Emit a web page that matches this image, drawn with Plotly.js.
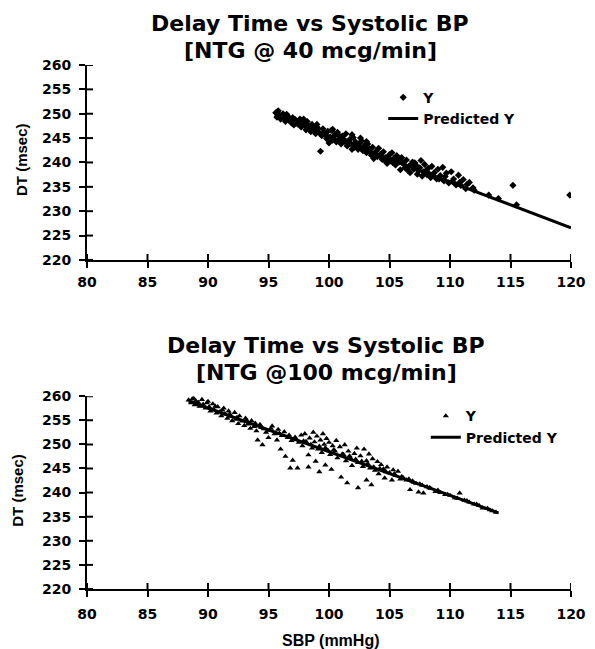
<!DOCTYPE html>
<html><head><meta charset="utf-8">
<script src="https://cdn.plot.ly/plotly-3.0.1.min.js"></script>
<style>html,body{margin:0;padding:0;background:#fff}#chart{width:595px;height:649px}</style>
</head><body><div id="chart"></div>
<script>
// ---- Data ----
const xTickVals = [80, 85, 90, 95, 100, 105, 110, 115, 120];
const yTickVals = [220, 225, 230, 235, 240, 245, 250, 255, 260];

// Top chart: NTG @ 40 mcg/min  -- observed [SBP, DT]
const top40Points = [
[95.6,250.2],[95.7,249.3],[95.9,249.8],[96.0,248.9],[96.2,250.0],[96.3,249.2],[96.4,248.4],[96.6,249.5],[96.7,248.7],[96.9,248.1],
[97.0,249.2],[97.1,247.7],[97.3,248.5],[97.4,247.9],[97.6,248.9],[97.7,247.3],[97.8,248.2],[98.0,247.6],[98.1,246.7],[98.2,248.4],
[98.4,247.0],[98.5,246.3],[98.6,247.8],[98.8,246.6],[98.9,245.9],[99.0,247.3],[99.2,246.1],[99.3,242.3],[99.4,245.5],[99.5,246.9],
[99.7,245.8],[99.8,244.9],[99.9,246.4],[100.1,245.2],[100.2,246.6],[100.3,244.6],[100.5,245.8],[100.6,244.2],[100.7,246.2],[100.9,244.9],
[101.0,243.8],[101.1,245.4],[101.3,244.3],[101.4,245.9],[101.5,243.4],[101.7,244.7],[101.8,243.9],[102.0,245.1],[102.1,243.1],[102.2,244.2],
[102.4,242.7],[102.5,243.9],[102.7,244.4],[102.8,242.4],[102.9,243.4],[103.1,242.0],[103.2,243.8],[103.3,242.8],[103.5,241.5],[103.6,243.1],
[103.7,240.8],[103.9,242.3],[104.0,241.2],[104.1,242.9],[104.3,241.7],[104.4,240.6],[104.5,242.2],[104.7,241.0],[104.8,239.8],[105.0,241.6],
[105.1,240.3],[105.2,242.0],[105.4,240.9],[105.5,239.5],[105.6,241.4],[105.8,240.1],[105.9,238.5],[106.0,241.0],[106.2,239.6],[106.3,238.9],
[106.4,240.5],[106.6,239.2],[106.7,237.9],[106.9,240.1],[107.0,238.6],[107.2,239.4],[107.3,237.6],[107.5,238.9],[107.6,240.4],[107.8,238.1],
[107.9,239.6],[108.1,237.5],[108.2,238.8],[108.4,236.9],[108.5,239.2],[108.7,237.9],[108.9,236.6],[109.0,238.6],[109.2,237.3],[109.4,239.0],
[109.5,236.2],[109.7,237.8],[109.9,235.8],[110.1,238.1],[110.3,236.6],[110.5,235.4],[110.7,237.4],[110.9,235.3],[111.1,236.5],[111.3,234.6],
[111.6,235.9],[111.9,234.8],[115.2,235.3],[119.9,233.3],
[95.8,250.6],[96.5,249.9],[97.2,248.8],[97.9,248.9],[98.3,247.5],[98.7,247.2],[99.1,246.9],[99.6,246.2],[100.0,244.0],[100.4,245.4],
[100.8,245.6],[101.2,244.8],[101.6,244.1],[101.9,242.7],[102.3,243.4],[102.6,243.0],[103.0,243.3],[103.4,242.2],[103.8,241.9],[104.2,241.4],
[104.6,240.4],[104.9,241.1],[105.3,239.9],[105.7,240.7],[106.1,239.9],[106.5,238.4],[106.8,239.6],[107.1,239.9],[107.4,238.3],[107.7,237.2],
[108.0,238.3],[108.3,237.6],[108.6,237.3],[109.1,236.6],[109.6,237.1],[110.2,236.1],[110.8,235.9],[111.4,235.5],[112.0,234.3],[113.2,233.3],
[114.0,232.6],[115.5,231.3],[100.3,246.8],[99.0,247.8],[101.9,245.7],[102.6,245.0],[103.1,244.3]
];
// Top chart predicted line (read along the drawn fit)
const top40PredSbp = [95.5, 100, 105, 110, 115, 120];
const top40PredDt  = [249.6, 245.4, 240.7, 236.0, 231.3, 226.6];

// Bottom chart: NTG @ 100 mcg/min -- observed [SBP, DT]
const bot100Points = [
[88.4,259.2],[88.6,258.6],[88.7,259.4],[88.9,258.2],[89.0,259.0],[89.2,258.7],[89.3,257.9],[89.5,259.3],[89.6,258.3],[89.8,257.5],
[89.9,258.6],[90.1,257.8],[90.2,256.9],[90.4,258.4],[90.5,257.2],[90.7,256.5],[90.8,257.8],[91.0,256.8],[91.1,255.9],[91.3,257.5],
[91.4,256.3],[91.6,255.4],[91.7,256.9],[91.9,255.8],[92.0,254.9],[92.2,256.6],[92.3,255.2],[92.5,254.3],[92.6,255.9],[92.8,254.8],
[93.0,253.9],[93.1,255.4],[93.3,254.2],[93.5,253.3],[93.6,254.9],[93.8,253.7],[94.0,252.8],[94.1,250.9],[94.3,254.1],[94.5,249.9],
[94.6,253.2],[94.8,252.5],[95.0,251.4],[95.2,253.3],[95.3,253.8],[95.5,252.2],[95.7,250.9],[95.8,253.1],[96.0,249.0],[96.1,251.8],
[96.3,252.6],[96.4,247.5],[96.6,251.4],[96.8,245.1],[96.9,250.8],[97.0,246.7],[97.2,251.5],[97.4,245.1],[97.5,250.4],[97.7,251.9],
[97.8,249.7],[98.0,252.2],[98.1,250.6],[98.3,247.8],[98.3,245.3],[98.4,251.3],[98.6,249.2],[98.7,252.5],[98.8,250.5],[98.9,246.5],
[99.0,251.7],[99.1,249.0],[99.2,244.3],[99.3,250.9],[99.4,248.3],[99.5,252.2],[99.6,250.0],[99.7,245.7],[99.8,251.2],[99.9,248.8],
[100.0,250.4],[100.1,247.9],[100.2,244.8],[100.3,249.7],[100.5,248.6],[100.6,250.8],[100.7,247.2],[100.9,249.5],[101.0,243.2],[101.1,248.0],
[101.3,249.9],[101.4,246.6],[101.5,242.0],[101.6,248.6],[101.8,247.1],[101.9,245.6],[102.1,248.1],[102.3,249.2],[102.4,246.2],[102.4,241.0],
[102.6,247.6],[102.8,245.4],[102.9,249.0],[103.1,246.6],[103.1,242.6],[103.3,248.0],[103.4,245.1],[103.5,241.6],[103.6,247.0],[103.8,244.6],
[104.0,246.4],[104.1,243.9],[104.3,245.8],[104.5,244.9],[104.6,243.0],[104.8,245.3],[105.0,244.1],[105.2,242.6],[105.3,244.7],[105.5,243.5],
[105.7,244.4],[105.9,242.8],[106.1,243.2],[106.4,242.6],[106.7,240.6],[106.9,242.4],[107.2,241.9],[107.4,240.1],[107.7,241.5],[107.8,239.9],
[108.1,241.2],[108.4,240.9],[108.8,240.2],[109.2,240.0],[109.6,239.6],[110.0,239.4],[110.4,238.9],[110.8,239.9],[111.2,238.4],[111.6,238.0],
[112.0,237.6],[112.4,237.3],[112.7,236.8],[113.1,236.7],[113.5,236.2],[113.8,235.9],
[88.8,259.6],[89.4,258.0],[90.0,258.9],[90.6,257.9],[91.2,257.1],[91.8,256.3],[92.4,255.6],[93.2,255.0],[93.9,254.4],[94.4,253.5],
[95.1,252.9],[95.9,252.3],[96.7,251.9],[97.3,251.0],[97.9,250.7],[98.5,250.0],[99.2,249.6],[99.7,249.3],[100.4,248.9],[101.2,247.9],
[101.7,247.6],[102.2,246.9],[102.7,246.5],[103.2,246.0],[103.7,245.3],[104.2,245.0],[104.7,244.3],[105.4,243.9],[106.0,243.3],[106.6,242.8],
[107.0,242.1],[107.5,241.8],[108.3,241.0],[109.0,240.5],[109.8,239.6],[110.6,238.8],[111.4,238.3],[112.2,237.6],[113.3,236.4]
];
const bot100PredSbp = [88.4, 95, 100, 105, 110, 114];
const bot100PredDt  = [259.0, 253.0, 248.5, 244.0, 239.4, 235.8];

// ---- Styling ----
const FONT = 'Liberation Sans, Arial, Helvetica, sans-serif';
const DV = 'DejaVu Sans, Verdana, sans-serif';
const BOLD = (size, fam) => ({family: fam || FONT, size: size, color: '#000', weight: 700});
const boldText = (vals) => vals.map(v => '<b>' + v + '</b>');

function mainX(anchor, standoff) {
  return {
    anchor: anchor, domain: [0, 1], range: [xTickVals[0], xTickVals[xTickVals.length - 1]],
    tickmode: 'array', tickvals: xTickVals, ticktext: boldText(xTickVals),
    showline: true, linecolor: '#000', linewidth: 2, mirror: false,
    ticks: 'outside', ticklen: 6, tickwidth: 2, tickcolor: '#000',
    tickfont: BOLD(14, DV), ticklabelstandoff: standoff,
    showgrid: false, zeroline: false, fixedrange: true
  };
}
function mainY(anchor, domain) {
  return {
    anchor: anchor, domain: domain, range: [yTickVals[0], yTickVals[yTickVals.length - 1]],
    tickmode: 'array', tickvals: yTickVals, ticktext: boldText(yTickVals),
    showline: true, linecolor: '#000', linewidth: 2,
    ticks: 'outside', ticklen: 6, tickwidth: 2, tickcolor: '#000',
    tickfont: BOLD(14, DV), ticklabelstandoff: 5,
    showgrid: false, zeroline: false, fixedrange: true
  };
}

const topDom = [0.628, 1];
const botDom = [0, 0.368];

// inner halves of the crossing tick marks (decoration, built from the tick arrays)
const tickShapes = [];
[['x', 'y'], ['x2', 'y2']].forEach(([xa, ya]) => {
  xTickVals.forEach(v => tickShapes.push({type: 'line', xref: xa, yref: ya, ysizemode: 'pixel',
    yanchor: yTickVals[0], x0: v, x1: v, y0: 0, y1: 6, line: {color: '#000', width: 2}}));
  yTickVals.forEach(v => tickShapes.push({type: 'line', xref: xa, yref: ya, xsizemode: 'pixel',
    xanchor: xTickVals[0], y0: v, y1: v, x0: 0, x1: 6, line: {color: '#000', width: 2}}));
});

const traces = [
  {type: 'scatter', mode: 'markers', name: 'Y', legend: 'legend',
   x: top40Points.map(p => p[0]), y: top40Points.map(p => p[1]), xaxis: 'x', yaxis: 'y',
   marker: {symbol: 'diamond', size: 5.5, color: '#000'}},
  {type: 'scatter', mode: 'lines', name: 'Predicted Y', legend: 'legend',
   x: top40PredSbp, y: top40PredDt, xaxis: 'x', yaxis: 'y',
   line: {color: '#000', width: 3}},
  {type: 'scatter', mode: 'markers', name: 'Y', legend: 'legend2',
   x: bot100Points.map(p => p[0]), y: bot100Points.map(p => p[1]), xaxis: 'x2', yaxis: 'y2',
   marker: {symbol: 'triangle-up', size: 5.5, color: '#000'}},
  {type: 'scatter', mode: 'lines', name: 'Predicted Y', legend: 'legend2',
   x: bot100PredSbp, y: bot100PredDt, xaxis: 'x2', yaxis: 'y2',
   line: {color: '#000', width: 3}}
];

const ann = (text, x, y, size, angle, fam) => ({
  text: '<b>' + text + '</b>', xref: 'paper', yref: 'paper', x: x, y: y,
  xanchor: 'center', yanchor: 'middle', showarrow: false,
  font: BOLD(size, fam), textangle: angle || 0
});

const layout = {
  width: 595, height: 649,
  paper_bgcolor: '#fff', plot_bgcolor: '#fff',
  margin: {l: 87, r: 24, t: 65, b: 60},
  font: {family: FONT, color: '#000'},
  xaxis: mainX('y', 2), yaxis: mainY('x', topDom),
  xaxis2: mainX('y2', 5), yaxis2: mainY('x2', botDom),
  shapes: tickShapes,
  legend: {x: 0.612, y: 0.968, xanchor: 'left', yanchor: 'top', bgcolor: 'rgba(0,0,0,0)',
           font: BOLD(14, DV), tracegroupgap: 0},
  legend2: {x: 0.70, y: 0.360, xanchor: 'left', yanchor: 'top', bgcolor: 'rgba(0,0,0,0)',
            font: BOLD(14, DV), tracegroupgap: 0},
  annotations: [
    ann('Delay Time vs Systolic BP', 0.461, 1.080, 22, 0, DV),
    ann('[NTG @ 40 mcg/min]', 0.461, 1.027, 22, 0, DV),
    ann('Delay Time vs Systolic BP', 0.494, 0.4647, 22, 0, DV),
    ann('[NTG @100 mcg/min]', 0.494, 0.414, 22, 0, DV),
    ann('DT (msec)', -0.134, 0.819, 15, -90),
    ann('DT (msec)', -0.143, 0.189, 15, -90),
    ann('SBP (mmHg)', 0.504, -0.098, 16)
  ],
  showlegend: true
};

Plotly.newPlot('chart', traces, layout, {displayModeBar: false, staticPlot: true});
</script>
</body></html>
